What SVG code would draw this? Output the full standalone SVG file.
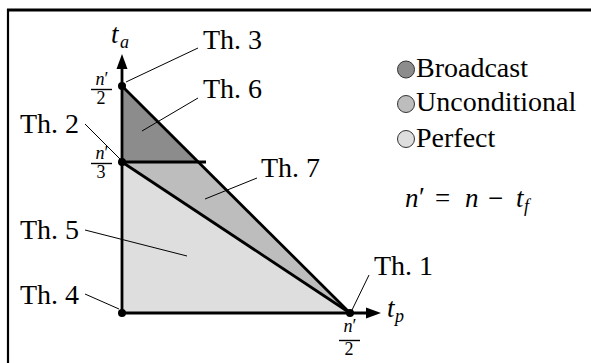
<svg xmlns="http://www.w3.org/2000/svg" width="591" height="363" viewBox="0 0 591 363">
<style>
text{font-family:"Liberation Serif","Times New Roman",serif;fill:#000}
.lbl{font-size:28px}
.math{font-style:italic;font-size:27px}
.rm{font-style:normal}
.sub{font-style:italic;font-size:18px}
.frac{font-size:18px;text-anchor:middle}
.fi{font-style:italic}
.thick{stroke:#000;stroke-width:2.8;fill:none;stroke-linecap:butt}
.lead{stroke:#000;stroke-width:1;fill:none}
.dot{fill:#000}
.bar{stroke:#000;stroke-width:1.4}
.leg{stroke:#333;stroke-width:1}
</style>
<rect x="0" y="0" width="591" height="363" fill="#fff"/>
<g id="frame">
<line x1="7" y1="10" x2="591" y2="10" stroke="#000" stroke-width="3"/>
<line x1="8" y1="9" x2="8" y2="363" stroke="#000" stroke-width="2.2"/>
</g>
<g id="regions">
<polygon id="perfect" points="122,162 350,313 122,313" fill="#dedede"/>
<polygon id="unconditional" points="122,162 198,162 350,313" fill="#bdbdbd"/>
<polygon id="broadcast" points="122,86 122,162 198,162" fill="#8c8c8c"/>
</g>
<g id="boundaries">
<line class="thick" x1="122" y1="86" x2="350" y2="313"/>
<line class="thick" x1="122" y1="162" x2="350" y2="313"/>
<line class="thick" x1="122" y1="162" x2="206" y2="162"/>
</g>
<g id="axes">
<line class="thick" x1="122" y1="313" x2="122" y2="66"/>
<polygon points="122,54 116.5,69 127.5,69" fill="#000"/>
<line class="thick" x1="120.6" y1="313" x2="368" y2="313"/>
<polygon points="381,313 366,307.5 366,318.5" fill="#000"/>
<text class="math" x="111" y="43">t</text><text class="sub" x="120" y="48">a</text>
<text class="math" x="387" y="317">t</text><text class="sub" x="395" y="322">p</text>
</g>
<g id="ticks">
<text class="frac" x="102" y="85"><tspan class="fi">n</tspan>′</text>
<line class="bar" x1="91" y1="89.5" x2="112" y2="89.5"/>
<text class="frac" x="101" y="104">2</text>
<text class="frac" x="102" y="159"><tspan class="fi">n</tspan>′</text>
<line class="bar" x1="91" y1="163.5" x2="112" y2="163.5"/>
<text class="frac" x="101" y="178">3</text>
<text class="frac" x="350" y="332"><tspan class="fi">n</tspan>′</text>
<line class="bar" x1="339" y1="340.5" x2="360" y2="340.5"/>
<text class="frac" x="349" y="355">2</text>
</g>
<g id="connectors">
<line class="lead" x1="198" y1="48" x2="126" y2="82"/>
<line class="lead" x1="198" y1="98" x2="142" y2="131"/>
<line class="lead" x1="85" y1="124" x2="120" y2="159"/>
<line class="lead" x1="257" y1="178" x2="205" y2="199"/>
<line class="lead" x1="85" y1="230" x2="187" y2="256"/>
<line class="lead" x1="85" y1="294" x2="119" y2="309"/>
<line class="lead" x1="369" y1="275" x2="352" y2="310"/>
</g>
<g id="th3"><circle class="dot" cx="122" cy="86" r="4"/><text class="lbl" x="203" y="49">Th. 3</text></g>
<g id="th6"><text class="lbl" x="203" y="98">Th. 6</text></g>
<g id="th2"><circle class="dot" cx="122" cy="162" r="4"/><text class="lbl" x="20" y="133">Th. 2</text></g>
<g id="th7"><text class="lbl" x="261" y="177">Th. 7</text></g>
<g id="th5"><text class="lbl" x="20" y="239">Th. 5</text></g>
<g id="th4"><circle class="dot" cx="122" cy="313" r="4"/><text class="lbl" x="20" y="304">Th. 4</text></g>
<g id="th1"><circle class="dot" cx="350" cy="313" r="4"/><text class="lbl" x="374" y="275">Th. 1</text></g>
<g id="legend">
<circle class="leg" cx="406" cy="69.5" r="8.5" fill="#8c8c8c"/>
<text class="lbl" x="416" y="77">Broadcast</text>
<circle class="leg" cx="406" cy="104" r="8.5" fill="#bdbdbd"/>
<text class="lbl" x="416" y="111">Unconditional</text>
<circle class="leg" cx="406" cy="139" r="8.5" fill="#dedede"/>
<text class="lbl" x="416" y="147">Perfect</text>
</g>
<g id="formula">
<text class="math" y="207"><tspan x="405">n</tspan><tspan class="rm" x="419" dy="-1">′</tspan><tspan class="rm" x="435" dy="1">=</tspan><tspan x="465">n</tspan><tspan class="rm" x="488">−</tspan><tspan x="516">t</tspan></text>
<text class="sub" x="524" y="212">f</text>
</g>
</svg>
